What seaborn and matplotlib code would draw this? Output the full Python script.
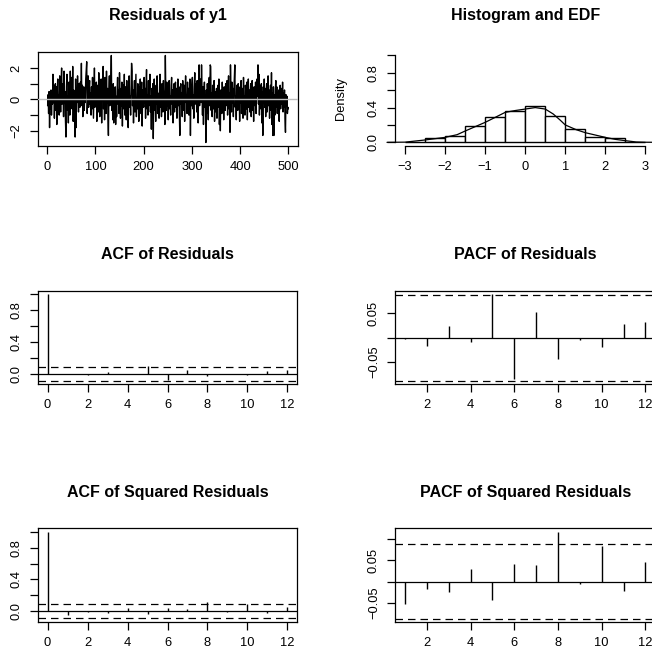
import numpy as np
import pandas as pd
import matplotlib
matplotlib.use("Agg")
import matplotlib.pyplot as plt
import seaborn as sns

# ---------------- data ----------------
residuals = [
    -0.4, 0.3, -0.9, 0.5, -1.8, 0.2, -0.6, 0.6, -1.0, 0.1, -0.3, 1.6, -0.2, 0.9, -1.2, 0.4, 1.0, -0.7, 0.8, -1.6, 0.6, 1.3, -0.5, 0.3, -1.0,
    1.5, 0.7, -0.8, 1.2, 2.0, -0.3, 0.4, 1.0, -1.1, 1.8, -0.2, 0.5, -1.4, -2.4, 0.8, 1.6, -0.7, 0.2, -1.5, 1.1, 0.3, -1.0, 1.8, -0.6, 0.9,
    1.4, -0.6, 2.1, -1.4, 0.6, 0.3, -0.9, -2.4, 1.3, -1.8, 0.7, -0.2, 1.5, 0.2, -0.8, 1.0, 0.4, -0.5, 1.1, 0.2, 2.3, -0.4, 0.9, -1.1, 0.3,
    0.8, -0.7, 0.6, -0.2, 1.3, 1.9, 2.4, -0.9, 0.1, 1.5, -0.5, 0.7, 1.2, -0.3, 0.4, -1.0, 0.8, -0.6, 1.4, 0.2, -1.2, 0.5, 2.0, -0.5, 0.6,
    -0.3, 1.1, -1.4, 0.4, 0.9, -0.8, 1.7, 0.2, -1.1, 0.6, -0.4, 1.3, -1.5, 0.5, 0.1, 2.1, -0.6, 0.9, -1.3, 1.4, 0.3, -0.9, 1.8, -0.2, 0.7,
    -1.0, -2.3, 0.6, 1.5, -0.4, 0.9, 1.2, 2.8, -0.7, 0.4, -1.3, 1.0, -1.5, 0.3, -0.6, 0.8, -1.6, 0.2, -1.1, 0.5, 1.4, -0.3, 0.6, -0.9, 1.7,
    0.2, -1.2, 0.7, -0.4, 1.1, -1.7, 0.4, 0.9, -0.6, 1.6, -1.0, 0.3, 0.8, -1.3, 1.2, -0.2, 0.5, -1.8, 0.9, 1.5, -0.5, 0.2, -1.0, 0.7, 2.3,
    1.8, -0.4, 0.6, -1.5, 0.3, 1.2, -0.8, 0.5, 1.6, -1.1, 0.1, -0.6, 1.0, 0.4, -1.4, 0.8, -0.3, 1.3, -0.9, 0.2, 1.1, -1.7, 0.6, 0.3, -0.5,
    1.4, -0.2, 0.7, -1.2, 0.9, 1.9, -0.6, 0.3, -1.0, 1.2, -0.4, 0.5, 1.6, -0.8, 0.2, -1.9, 0.7, -0.3, 1.0, -2.5, 0.4, 1.3, -0.7, 0.6, -1.4,
    0.9, -0.3, 1.5, -0.9, 0.4, 0.1, -1.2, 0.8, 1.6, -0.5, 0.3, -1.1, 1.0, 0.6, -0.8, 1.2, -0.2, 0.5, -1.6, 2.8, 0.3, -0.7, 1.1, -0.4, 0.8,
    -1.3, 0.5, 1.2, -0.6, 0.2, -1.0, 0.9, 1.4, -0.3, 0.6, -1.5, 0.4, 1.0, -0.8, 0.3, 1.1, -0.5, 0.7, -1.2, 0.2, 1.3, -0.4, 0.8, -0.9, -2.3,
    0.6, 1.0, -0.3, 0.4, -1.1, 1.2, 0.2, -0.7, 0.9, -1.4, 0.5, 1.5, -0.2, 0.3, -0.9, 1.1, -0.5, 0.7, -1.0, 0.4, 1.3, -2.3, 0.6, -0.4, 0.9,
    1.4, -0.6, 0.3, -1.2, 0.8, 1.7, -0.3, 0.5, 1.0, -0.8, 1.2, 0.2, -1.5, 0.7, 2.2, -0.4, 0.9, 1.3, -0.2, 2.2, 0.5, -1.0, 0.8, -1.6, 0.4,
    1.1, -0.5, 0.3, -2.75, 0.6, -0.9, 1.0, 0.2, -1.3, 0.7, 1.4, -0.4, 2.2, 2.1, -0.7, 0.4, -1.1, 0.9, 0.3, -0.6, 1.2, -1.4, 0.5, 0.1, -0.8,
    0.7, -1.2, 0.4, 0.9, -0.5, 1.3, -1.6, 0.2, -2.0, 0.6, 0.3, -0.9, 1.1, -0.3, 0.5, -1.3, 0.8, 0.2, -0.7, 1.0, -0.4, 0.6, 1.2, -1.0, 0.3,
    1.5, -0.6, 0.4, -2.1, 2.2, 0.3, -0.8, 1.1, -0.2, 0.7, -1.1, 0.5, 1.4, 2.2, -0.5, 0.2, -1.3, 0.9, 0.4, -0.7, 1.0, -0.3, 0.6, -1.4, 0.8,
    -0.2, 1.2, -0.9, 0.3, 0.7, -1.2, 1.4, -0.4, 0.2, -1.0, 0.9, 0.5, -0.6, 1.1, -1.3, 0.4, 1.3, -0.5, 0.6, -0.8, 0.3, 1.0, -1.1, 0.2, 1.2,
    -0.7, 0.5, -1.4, 0.8, 0.3, -0.4, 1.1, -0.9, 0.6, 1.3, 0.2, 2.2, -0.3, 1.6, -1.0, 0.9, 0.4, -0.6, 1.0, -1.5, 0.5, -2.3, 0.8, -0.2, 1.3,
    -0.5, 0.7, -1.1, 0.4, 1.0, -0.8, 0.3, 1.5, -0.4, 0.6, -1.2, 0.2, 0.9, -0.7, 1.7, -1.6, 0.4, -2.3, 0.8, -2.3, 0.3, -1.0, 0.6, 1.2, -0.5,
    0.8, -0.9, 0.3, -0.2, 0.6, -1.4, 0.5, 0.9, -0.6, 0.2, 0.7, -0.3, 1.1, -0.8, 0.4, -0.5, 0.6, -1.2, -2.1, 0.3, -0.4, 0.2, -0.9, -0.5, -0.6,
]

hist_edges = [-3.0, -2.5, -2.0, -1.5, -1.0, -0.5, 0.0, 0.5, 1.0, 1.5, 2.0, 2.5, 3.0]
hist_density = [0.008, 0.046, 0.073, 0.184, 0.287, 0.360, 0.418, 0.307, 0.150, 0.065, 0.046, 0.004]

kde_x = [-3.45, -3.0, -2.5, -2.25, -2.0, -1.7, -1.5, -1.25, -1.0, -0.75, -0.5, -0.25,
         0.0, 0.25, 0.5, 0.7, 0.87, 1.0, 1.27, 1.5, 1.75, 2.0, 2.25, 2.5, 2.77, 3.0, 3.5]
kde_y = [0.0, 0.002, 0.027, 0.042, 0.057, 0.088, 0.130, 0.180, 0.230, 0.287, 0.345, 0.366,
         0.383, 0.400, 0.383, 0.326, 0.257, 0.200, 0.146, 0.111, 0.084, 0.057, 0.034, 0.019, 0.004, 0.001, 0.0]

acf_lags = list(range(0, 13))
acf_resid = [1.0, 0.0, -0.012, 0.022, -0.008, 0.090, -0.085, 0.045, -0.035, -0.004, -0.020, 0.028, 0.040]
acf_sq = [1.0, -0.042, -0.015, -0.020, 0.035, -0.030, 0.040, 0.030, 0.117, -0.004, 0.088, -0.020, 0.055]

pacf_lags = list(range(1, 13))
pacf_resid = [-0.002, -0.017, 0.023, -0.009, 0.089, -0.084, 0.053, -0.044, -0.005, -0.020, 0.028, 0.032]
pacf_sq = [-0.054, -0.017, -0.025, 0.030, -0.043, 0.042, 0.038, 0.117, -0.005, 0.083, -0.023, 0.045]

ci_bound = 0.0877

titles = ["Residuals of y1", "Histogram and EDF", "ACF of Residuals", "PACF of Residuals",
          "ACF of Squared Residuals", "PACF of Squared Residuals"]

# ---------------- style ----------------
sns.set_style("ticks")
plt.rcParams['font.family'] = ['Liberation Sans', 'DejaVu Sans']
plt.rcParams['axes.unicode_minus'] = True
for key in ['text.color', 'axes.labelcolor', 'xtick.color', 'ytick.color', 'axes.edgecolor']:
    plt.rcParams[key] = 'black'

W, H = 652, 654
fig = plt.figure(figsize=(W / 100, H / 100), dpi=100)

LW = 0.9
TICK_FS = 9.3
TITLE_FS = 11.5


def px_axes(x0, x1, y0, y1):
    return fig.add_axes([x0 / W, 1 - y1 / H, (x1 - x0) / W, (y1 - y0) / H])


def style(ax, title, box=True):
    for s in ax.spines.values():
        s.set_linewidth(LW)
        s.set_color('black')
        s.set_visible(box)
    ax.tick_params(axis='both', direction='out', length=5.8, width=LW, color='black',
                   labelsize=TICK_FS, labelcolor='black')
    ax.tick_params(axis='x', pad=4.9)
    ax.tick_params(axis='y', pad=5.3)
    for lab in ax.get_yticklabels():
        lab.set_rotation(90)
        lab.set_va('center')
    ax.set_title(title, fontsize=TITLE_FS, fontweight='bold', pad=22.7, color='black')
    ax.set_xlabel('')
    ax.set_ylabel('')
    ax.grid(False)
    ax.set_facecolor('white')


def fmt(v, nd):
    s = f"{v:.{nd}f}"
    return s.replace('-', '\u2212')


def set_ticks(ax, xt, xl, yt, yl):
    ax.set_xticks(xt)
    ax.set_xticklabels(xl)
    ax.set_yticks(yt)
    ax.set_yticklabels(yl)


# ---------- Panel 1 : residual series ----------
ax1 = px_axes(38, 298, 52, 146)
t = np.arange(1, len(residuals) + 1)
df_ts = pd.DataFrame({'t': t, 'res': residuals})
sns.lineplot(data=df_ts, x='t', y='res', color='black', linewidth=1.0,
             estimator=None, ax=ax1)
ax1.axhline(0, color='#BEBEBE', linewidth=1.0, zorder=5)
lo, hi = min(residuals), max(residuals)
ax1.set_xlim(1 - 0.04 * 499, 500 + 0.04 * 499)
ax1.set_ylim(lo - 0.04 * (hi - lo), hi + 0.04 * (hi - lo))
set_ticks(ax1, [0, 100, 200, 300, 400, 500], ['0', '100', '200', '300', '400', '500'],
          [-2, -1, 0, 1, 2], [fmt(-2, 0), '', '0', '', '2'])
style(ax1, titles[0])

# ---------- Panel 2 : histogram ----------
ax2 = px_axes(395.4, 655, 52, 145.8)
centers = [(a + b) / 2 for a, b in zip(hist_edges[:-1], hist_edges[1:])]
sns.histplot(x=centers, weights=hist_density, bins=hist_edges, stat='count',
             color='white', edgecolor='black', linewidth=1.0, alpha=1.0, ax=ax2)
sns.lineplot(x=kde_x, y=kde_y, color='black', linewidth=0.9, sort=False,
             estimator=None, ax=ax2)
for ln in ax2.lines:
    ln.set_clip_on(False)
ax2.set_xlim(-3.24, 3.24)
ax2.set_ylim(-0.04, 1.04)
set_ticks(ax2, [-3, -2, -1, 0, 1, 2, 3], [fmt(v, 0) for v in [-3, -2, -1, 0, 1, 2, 3]],
          [0, 0.2, 0.4, 0.6, 0.8, 1.0], ['0.0', '', '0.4', '', '0.8', ''])
style(ax2, titles[1], box=False)
ax2.spines['left'].set_visible(True)
ax2.spines['bottom'].set_visible(True)
ax2.spines['left'].set_bounds(0, 1)
ax2.spines['bottom'].set_bounds(-3, 3)
ax2.set_ylabel('Density', fontsize=TICK_FS, color='black')
ax2.yaxis.set_label_coords(-0.186, 0.5)


def corr_panel(ax, lags, vals, title, yt, yl):
    ax.vlines(lags, 0, vals, color='black', linewidth=1.0)
    ax.axhline(0, color='black', linewidth=LW)
    ax.axhline(ci_bound, color='black', linewidth=LW, linestyle=(0, (6, 4)))
    ax.axhline(-ci_bound, color='black', linewidth=LW, linestyle=(0, (6, 4)))
    x0, x1 = min(lags), max(lags)
    ax.set_xlim(x0 - 0.04 * (x1 - x0), x1 + 0.04 * (x1 - x0))
    lo = min(-ci_bound, min(vals))
    hi = max(ci_bound, max(vals))
    ax.set_ylim(lo - 0.04 * (hi - lo), hi + 0.04 * (hi - lo))
    xt = [v for v in [0, 2, 4, 6, 8, 10, 12] if v >= x0]
    set_ticks(ax, xt, [str(v) for v in xt], yt, yl)
    style(ax, title)


acf_yt = [0, 0.2, 0.4, 0.6, 0.8, 1.0]
acf_yl = ['0.0', '', '0.4', '', '0.8', '']

ax3 = px_axes(38, 297, 290.7, 384)
corr_panel(ax3, acf_lags, acf_resid, titles[2], acf_yt, acf_yl)

ax4 = px_axes(395.4, 655, 290.7, 384)
corr_panel(ax4, pacf_lags, pacf_resid, titles[3], [-0.05, 0, 0.05],
           [fmt(-0.05, 2), '', '0.05'])

ax5 = px_axes(38, 297, 528.3, 621.7)
corr_panel(ax5, acf_lags, acf_sq, titles[4], acf_yt, acf_yl)

ax6 = px_axes(395.4, 655, 528.3, 622.3)
corr_panel(ax6, pacf_lags, pacf_sq, titles[5], [-0.05, 0, 0.05, 0.10],
           [fmt(-0.05, 2), '', '0.05', ''])

fig.savefig('out.png', dpi=100, facecolor='white')
